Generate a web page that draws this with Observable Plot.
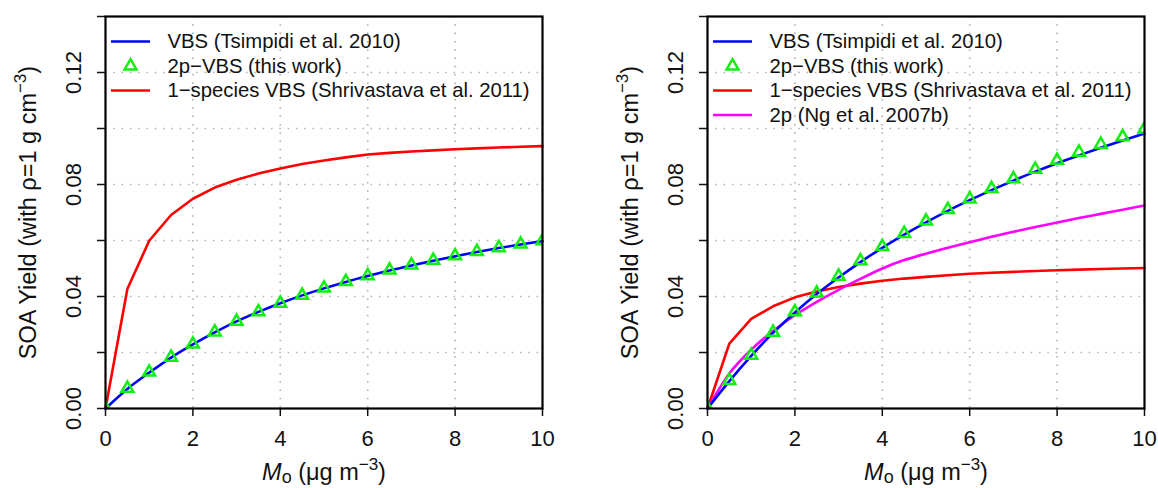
<!DOCTYPE html>
<html><head><meta charset="utf-8">
<script src="https://cdn.jsdelivr.net/npm/d3@7"></script>
<script src="https://cdn.jsdelivr.net/npm/@observablehq/plot@0.6"></script>
<style>
body{margin:0;background:#fff;}
#wrap{display:flex;width:1158px;height:488px;overflow:hidden;}
</style></head><body><div id="wrap"></div>
<script>
// ---- data ----
const mo = [0,0.5,1,1.5,2,2.5,3,3.5,4,4.5,5,5.5,6,6.5,7,7.5,8,8.5,9,9.5,10];
const leftVBS = [0,0.0070,0.0128,0.0182,0.0229,0.0272,0.0311,0.0345,0.0376,0.0404,0.0429,0.0452,0.0473,0.0493,0.0511,0.0528,0.0544,0.0559,0.0573,0.0586,0.0598];
const left2pVBS = [0,0.0072,0.0130,0.0183,0.0230,0.0273,0.0311,0.0345,0.0376,0.0404,0.0430,0.0453,0.0474,0.0494,0.0512,0.0529,0.0545,0.0560,0.0574,0.0587,0.0599];
const left1Species = [0,0.0427,0.0599,0.0691,0.0749,0.0789,0.0817,0.0839,0.0857,0.0873,0.0886,0.0897,0.0907,0.0913,0.0918,0.0922,0.0926,0.0929,0.0932,0.0935,0.0937];
const rightVBS = [0,0.0098,0.0188,0.0270,0.0343,0.0409,0.0468,0.0523,0.0574,0.0621,0.0665,0.0706,0.0744,0.0780,0.0814,0.0846,0.0876,0.0904,0.0931,0.0957,0.0982];
const right2pVBS = [0,0.0100,0.0190,0.0272,0.0345,0.0412,0.0472,0.0527,0.0578,0.0625,0.0669,0.0710,0.0748,0.0785,0.0820,0.0854,0.0886,0.0915,0.0943,0.0970,0.0998];
const right1Species = [0,0.0232,0.0320,0.0365,0.0397,0.0418,0.0434,0.0446,0.0456,0.0464,0.0470,0.0476,0.0481,0.0485,0.0488,0.0491,0.0494,0.0496,0.0498,0.0500,0.0502];
const rightNg = [0,0.0125,0.0210,0.0277,0.0333,0.0381,0.0424,0.0463,0.0500,0.0530,0.0553,0.0574,0.0594,0.0613,0.0631,0.0648,0.0664,0.0680,0.0695,0.0710,0.0725];

const xTicks = [0,2,4,6,8,10];
const yTicks = [0,0.02,0.04,0.06,0.08,0.10,0.12,0.14];
const yLabels = [0,0.04,0.08,0.12];
const xGrid = [2,4,6,8];
const yGrid = [0.02,0.04,0.06,0.08,0.10,0.12];

const labVBS = "VBS (Tsimpidi et al. 2010)";
const lab2p = "2p\u2212VBS (this work)";
const lab1s = "1\u2212species VBS (Shrivastava et al. 2011)";
const labNg = "2p (Ng et al. 2007b)";

const BLUE = "#0000ff", GREEN = "#11ee11", RED = "#ff0000", MAG = "#ff00ff";

const yTitlePlain = "SOA Yield (with \u03c1=1 g cm\u22123)";
const xTitlePlain = "Mo (\u03bcg m\u22123)";

const FONT = "'Liberation Sans', Arial, Helvetica, sans-serif";
const lineSym = {draw(ctx){ ctx.moveTo(-19.5,0); ctx.lineTo(19.5,0); }};

function toRows(ys){ return mo.map((m,i)=>({m, v: ys[i]})); }

function panel(cfg){
  const marks = [
    Plot.ruleX(xGrid, {x: d=>d, stroke:"#b0b0b0", strokeWidth:1.7, strokeDasharray:"1.5,6.8"}),
    Plot.ruleY(yGrid, {y: d=>d, stroke:"#b0b0b0", strokeWidth:1.7, strokeDasharray:"1.5,6.8"}),
    Plot.axisX({ticks: xTicks, tickSize: 8, tickPadding: 14, fontSize: 22, strokeWidth: 1.5, label: null, tickFormat: d=>String(d)}),
    Plot.axisY({ticks: yTicks, tickSize: 8, strokeWidth: 1.5, label: null, tickFormat: ()=>""}),
    Plot.text(yLabels, {y: d=>d, text: d=>d.toFixed(2), frameAnchor:"left", dx:-25, rotate:-90, fontSize:22, lineAnchor:"bottom", textAnchor:"middle"}),
  ];
  for (const s of cfg.lines) {
    marks.push(Plot.line(toRows(s.values), {x:"m", y:"v", stroke:s.color, strokeWidth:2.6, curve:s.curve}));
  }
  marks.push(Plot.dot(toRows(cfg.tri), {x:"m", y:"v", symbol:"triangle", r:4.4, stroke:GREEN, strokeWidth:2.5, fill:"none", clip:true}));
  marks.push(Plot.frame({stroke:"#000", strokeWidth:2.2}));
  cfg.legend.forEach((e,i)=>{
    const dy = 25 + i*24.5;
    marks.push(Plot.dot([0], {frameAnchor:"top-left", dx:25, dy, symbol: e.kind==="tri" ? "triangle" : lineSym, r: e.kind==="tri" ? 4.4 : 5, stroke:e.color, strokeWidth: e.kind==="tri" ? 2.5 : 2.6, fill:"none"}));
    marks.push(Plot.text([0], {frameAnchor:"top-left", dx:62, dy, text: ()=>e.label, textAnchor:"start", lineAnchor:"middle", fontSize:20.3, fill:"#111"}));
  });
  marks.push(Plot.text([0], {frameAnchor:"left", dx:-70, rotate:-90, text: ()=>yTitlePlain, fontSize:23.5, lineAnchor:"bottom", textAnchor:"middle", fill:"#111"}));
  marks.push(Plot.text([0], {frameAnchor:"bottom", dy:71, text: ()=>xTitlePlain, fontSize:23.5, lineAnchor:"bottom", textAnchor:"middle", fill:"#111"}));

  const svg = Plot.plot({
    width: 579, height: 488,
    marginLeft: cfg.ml, marginRight: cfg.mr, marginTop: 16, marginBottom: 80,
    x: {domain:[0,10]},
    y: {domain:[0,0.14]},
    style: {fontFamily: FONT, fontSize:"22px", color:"#111", background:"#fff", overflow:"visible"},
    marks
  });
  rich(svg, yTitlePlain, [{t:"SOA Yield (with \u03c1=1 g cm", o:0}, {t:"\u22123", o:-10, size:17}, {t:")", o:0}]);
  rich(svg, xTitlePlain, [{t:"M", o:0, italic:true}, {t:"o", o:3, size:18}, {t:" (\u03bcg m", o:0}, {t:"\u22123", o:-10, size:17}, {t:")", o:0}]);
  return svg;
}

function rich(svg, plain, parts){
  const el = Array.from(svg.querySelectorAll("text")).find(t => t.textContent === plain);
  if (!el) return;
  el.textContent = "";
  let cur = 0;
  for (const p of parts) {
    const ts = document.createElementNS("http://www.w3.org/2000/svg","tspan");
    ts.textContent = p.t;
    if (p.o !== cur) { ts.setAttribute("dy", String(p.o - cur)); cur = p.o; }
    if (p.size) ts.setAttribute("font-size", p.size);
    if (p.italic) ts.setAttribute("font-style", "italic");
    el.appendChild(ts);
  }
}

const wrap = document.getElementById("wrap");
wrap.appendChild(panel({
  ml:105, mr:37,
  lines:[{values:left1Species, color:RED, curve:"linear"},{values:leftVBS, color:BLUE, curve:"monotone-x"}],
  tri: left2pVBS,
  legend:[{label:labVBS, color:BLUE, kind:"line"},{label:lab2p, color:GREEN, kind:"tri"},{label:lab1s, color:RED, kind:"line"}]
}));
wrap.appendChild(panel({
  ml:128, mr:14,
  lines:[{values:right1Species, color:RED, curve:"linear"},{values:rightNg, color:MAG, curve:"monotone-x"},{values:rightVBS, color:BLUE, curve:"monotone-x"}],
  tri: right2pVBS,
  legend:[{label:labVBS, color:BLUE, kind:"line"},{label:lab2p, color:GREEN, kind:"tri"},{label:lab1s, color:RED, kind:"line"},{label:labNg, color:MAG, kind:"line"}]
}));
</script></body></html>
